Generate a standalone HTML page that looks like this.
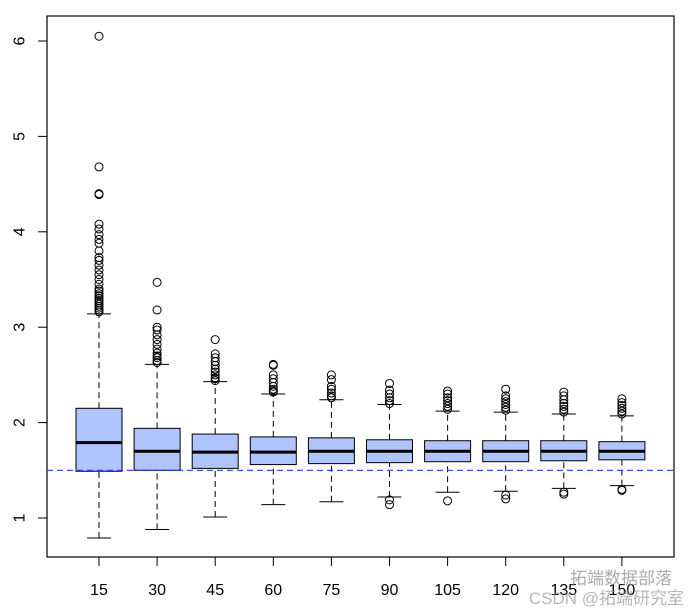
<!DOCTYPE html>
<html><head><meta charset="utf-8"><style>
body{margin:0;background:#fff;}
svg{display:block;font-family:"Liberation Sans","Noto Sans CJK SC",sans-serif;}
</style></head><body>
<svg id="chart" width="688" height="612" viewBox="0 0 688 612" xmlns="http://www.w3.org/2000/svg"></svg>
<script>
const categories=["15","30","45","60","75","90","105","120","135","150"];
const lowWhisker=[0.79,0.88,1.01,1.14,1.17,1.22,1.27,1.28,1.31,1.34];
const q1=[1.49,1.50,1.52,1.56,1.57,1.58,1.59,1.59,1.60,1.61];
const medians=[1.79,1.70,1.69,1.69,1.70,1.70,1.70,1.70,1.70,1.70];
const q3=[2.15,1.94,1.88,1.85,1.84,1.82,1.81,1.81,1.81,1.80];
const highWhisker=[3.14,2.61,2.43,2.30,2.24,2.19,2.12,2.11,2.09,2.07];
const outliers=[
 [3.16,3.18,3.2,3.22,3.24,3.26,3.28,3.3,3.33,3.35,3.38,3.4,3.45,3.5,3.55,3.6,3.65,3.7,3.73,3.8,3.88,3.92,3.97,4.03,4.08,4.39,4.40,4.68,6.05],
 [2.63,2.65,2.68,2.7,2.73,2.77,2.82,2.87,2.92,2.97,3.0,3.18,3.47],
 [2.44,2.46,2.47,2.5,2.53,2.56,2.6,2.64,2.68,2.72,2.87],
 [2.32,2.33,2.35,2.38,2.42,2.46,2.5,2.6,2.61],
 [2.26,2.28,2.31,2.35,2.38,2.45,2.5],
 [2.2,2.23,2.26,2.3,2.34,2.41,1.19,1.14],
 [2.14,2.17,2.2,2.23,2.26,2.3,2.33,1.18],
 [2.13,2.16,2.19,2.22,2.25,2.28,2.35,1.24,1.20],
 [2.11,2.14,2.17,2.2,2.24,2.28,2.32,1.27,1.25],
 [2.09,2.12,2.15,2.18,2.21,2.25,1.30,1.29]
];
const yTicks=[1,2,3,4,5,6];
const refLine=1.5;

const svg=document.getElementById('chart');
const NS='http://www.w3.org/2000/svg';
const L=47,R=674,T=16,B=557;
const y=v=>518-(v-1)*95.4;
const x=i=>99+i*58.1;
function el(tag,attrs,parent){const e=document.createElementNS(NS,tag);for(const k in attrs)e.setAttribute(k,attrs[k]);(parent||svg).appendChild(e);return e;}

const frame=el('rect',{x:L,y:T,width:R-L,height:B-T,fill:'none',stroke:'#000','stroke-width':1.2});



const yAxis=el('g',{});


yTicks.forEach(t=>{
 el('line',{x1:L-9,x2:L,y1:y(t),y2:y(t),stroke:'#000'},yAxis);
 const tx=el('text',{x:20,y:y(t),'font-size':16,'text-anchor':'middle',transform:`rotate(-90 20 ${y(t)})`,'dominant-baseline':'central'},yAxis);
 tx.textContent=t;
 
 
});

const xAxis=el('g',{});


categories.forEach((c,i)=>{
 el('line',{x1:x(i),x2:x(i),y1:B,y2:B+9,stroke:'#000'},xAxis);
 const tx=el('text',{x:x(i),y:595,'font-size':16,'text-anchor':'middle'},xAxis);
 tx.textContent=c;
 
 
});

categories.forEach((c,i)=>{
 const g=el('g',{});
 
 
 const cx=x(i),hw=23;
 el('line',{x1:cx,x2:cx,y1:y(lowWhisker[i]),y2:y(q1[i]),stroke:'#000','stroke-dasharray':'6,4'},g);
 el('line',{x1:cx,x2:cx,y1:y(q3[i]),y2:y(highWhisker[i]),stroke:'#000','stroke-dasharray':'6,4'},g);
 el('line',{x1:cx-12,x2:cx+12,y1:y(lowWhisker[i]),y2:y(lowWhisker[i]),stroke:'#000'},g);
 el('line',{x1:cx-12,x2:cx+12,y1:y(highWhisker[i]),y2:y(highWhisker[i]),stroke:'#000'},g);
 el('rect',{x:cx-hw,y:y(q3[i]),width:hw*2,height:y(q1[i])-y(q3[i]),fill:'#afc4fb',stroke:'#000','stroke-width':1},g);
 el('line',{x1:cx-hw,x2:cx+hw,y1:y(medians[i]),y2:y(medians[i]),stroke:'#000','stroke-width':3},g);
 outliers[i].forEach(v=>{
  const p=el('circle',{cx:cx,cy:y(v),r:4,fill:'none',stroke:'#000','stroke-width':1},g);
  
  
 });
});

const ref=el('line',{x1:L,x2:R,y1:y(refLine),y2:y(refLine),stroke:'#1f3cff','stroke-width':1.2,'stroke-dasharray':'6,4'});



const wm=el('text',{x:684,y:604,'font-size':17,'text-anchor':'end',fill:'#999','fill-opacity':0.7});
wm.textContent='CSDN @拓端研究室';


const wm2=el('text',{x:672,y:584,'font-size':17,'text-anchor':'end',fill:'#888','fill-opacity':0.7});
wm2.textContent='拓端数据部落';


</script>
</body></html>
